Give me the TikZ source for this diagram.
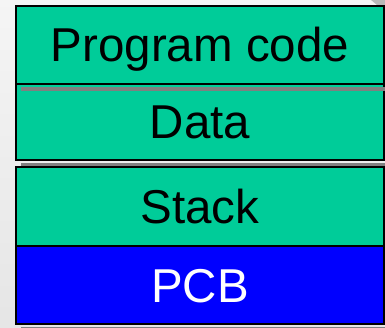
\documentclass[tikz,border=0pt]{standalone}
\usepackage{fontspec}
\setmainfont{Liberation Sans}
\definecolor{segGreen}{RGB}{0,204,153}
\definecolor{segBlue}{RGB}{0,0,255}
\definecolor{shadowGray}{RGB}{128,128,128}
\definecolor{cornerGray}{RGB}{185,185,185}
\begin{document}
\begin{tikzpicture}[x=1pt,y=-1pt,
  seg/.style={draw=black, line width=2.5pt, minimum width=368pt, inner sep=0pt,
    text height=34pt, text depth=0pt,
    font=\fontsize{47.5}{57}\selectfont},
  greenseg/.style={seg, fill=segGreen, text=black},
  blueseg/.style={seg, fill=segBlue, text=white},
  dropshadow/.style={fill=shadowGray, draw=none}]
  % page background
  \shade[top color=black!4, bottom color=black!10] (0,0) rectangle (385,328);
  \useasboundingbox (0,0) rectangle (385,328);
  \fill[cornerGray] (371,0) -- (385,0) -- (385,5) -- (377,5) -- cycle;
  % memory layout of a process
  \node[greenseg, minimum height=78pt] (code) at (200,45) {Program code};
  \node[greenseg, minimum height=76pt] (data) at (200,122) {Data};
  \node[greenseg, minimum height=79pt] (stack) at (200,206.5) {Stack};
  \node[blueseg, minimum height=78pt] (pcb) at (200,285) {PCB};
  % drop shadows below each block
  \fill[dropshadow] ([xshift=6pt,yshift=-2pt]code.south west) rectangle ([xshift=1pt,yshift=-6pt]code.south east);
  \fill[dropshadow] ([xshift=6pt,yshift=-2pt]data.south west) rectangle ([xshift=1pt,yshift=-5pt]data.south east);
  \fill[dropshadow] ([xshift=6pt,yshift=-2pt]pcb.south west) rectangle ([xshift=1pt,yshift=-5pt]pcb.south east);
\end{tikzpicture}
\end{document}
